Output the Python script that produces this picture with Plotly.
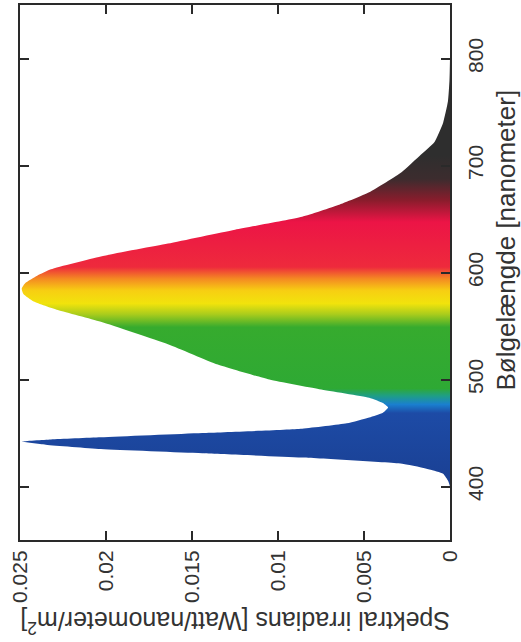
import plotly.graph_objects as go

# Spectrum: wavelength [nm] and spectral irradiance [W/nm/m^2]
wavelength = [400, 405, 412, 416, 421, 427, 431, 435, 439, 442, 444, 446, 450, 454,
              459, 464.5, 469, 473.8, 478, 483, 491, 500, 514, 533, 554, 565, 573,
              580, 585, 590, 597, 603, 615, 627, 640, 652, 663, 675, 694, 710, 722,
              740, 760, 780, 800]
irradiance = [0.0, 0.0001, 0.0004, 0.0012, 0.0027, 0.0086, 0.0144, 0.0203, 0.0235,
              0.0249, 0.0232, 0.0203, 0.0144, 0.0086, 0.0060, 0.0047, 0.0039, 0.0036,
              0.0039, 0.0047, 0.0076, 0.0105, 0.0135, 0.0164, 0.0203, 0.0228, 0.0242,
              0.0248, 0.0249, 0.0247, 0.0240, 0.0232, 0.0203, 0.0164, 0.0125, 0.0086,
              0.0065, 0.0047, 0.0028, 0.0017, 0.0009, 0.0004, 0.00012, 0.00003, 0.0]

# Colour bands along the wavelength axis
band_wl = [400, 470, 478, 486, 493, 550, 562, 572, 584, 595, 606, 648, 668, 688, 710, 800]
band_col = ["#1a3f92", "#1d4ba6", "#1a7fcf", "#1f9e86", "#2ea934", "#36ab2e", "#a9cc1c",
            "#f1e30c", "#f7cf12", "#f48a22", "#ee2a3c", "#ec1446", "#8a1c2c", "#3c2c2e",
            "#2e2e2e", "#2e2e2e"]

x_ticks = [0, 0.005, 0.01, 0.015, 0.02, 0.025]
x_ticktext = ["0", "0.005", "0.01", "0.015", "0.02", "0.025"]
y_ticks = [400, 500, 600, 700, 800]

wl0, wl1 = band_wl[0], band_wl[-1]
colorscale = [[(w - wl0) / (wl1 - wl0), c] for w, c in zip(band_wl, band_col)]

fig = go.Figure()
fig.add_trace(go.Scatter(
    x=irradiance, y=wavelength, mode="lines",
    line=dict(width=0, color="rgba(0,0,0,0)", shape="spline", smoothing=0.5),
    fill="tozerox",
    fillgradient=dict(type="vertical", colorscale=colorscale, start=wl0, stop=wl1),
    hoverinfo="skip", showlegend=False,
))

font_family = "Liberation Sans, Arial, sans-serif"
axis_common = dict(showline=True, linecolor="#2a2a2a", linewidth=2, mirror="ticks",
                   ticks="inside", ticklen=9, tickwidth=2, tickcolor="#2a2a2a",
                   showgrid=False, zeroline=False,
                   tickfont=dict(family=font_family, size=21, color="#333333"))

fig.update_layout(
    width=521, height=642,
    margin=dict(l=20, r=71, t=3, b=102),
    paper_bgcolor="white", plot_bgcolor="white",
    xaxis=dict(range=[0.025, 0], tickvals=x_ticks, ticktext=x_ticktext,
               tickangle=-90, **axis_common),
    yaxis=dict(range=[350, 850], tickvals=y_ticks, side="right", tickangle=-90,
               ticklabelstandoff=6, **axis_common),
    annotations=[
        dict(text="Spektral irradians [Watt/nanometer/m<sup>2</sup>]", xref="paper", yref="paper",
             x=0.5, y=-0.188, textangle=180, showarrow=False,
             font=dict(family=font_family, size=25, color="#333333")),
        dict(text="Bølgelængde [nanometer]", xref="paper", yref="paper",
             x=1.17, y=0.56, textangle=-90, showarrow=False,
             font=dict(family=font_family, size=26, color="#333333")),
    ],
)

fig.write_html("out.html", config={"displayModeBar": False},
               post_script="document.body.style.margin='0';")
